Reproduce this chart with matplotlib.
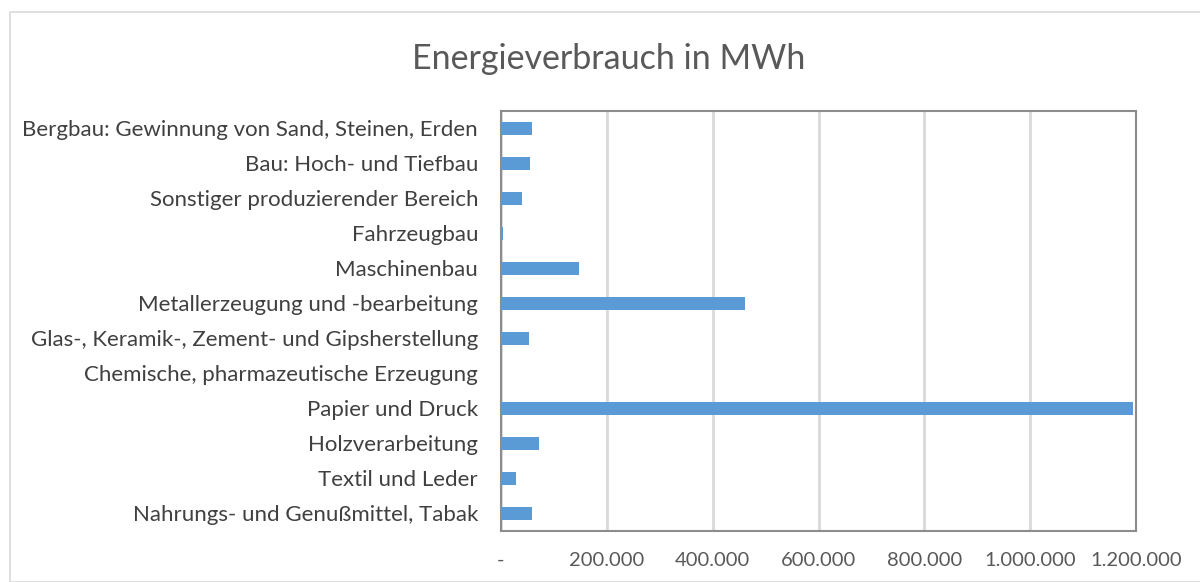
import matplotlib.pyplot as plt
from matplotlib.patches import Rectangle
from matplotlib.ticker import FuncFormatter

categories = [
    "Nahrungs- und Genußmittel, Tabak",
    "Textil und Leder",
    "Holzverarbeitung",
    "Papier und Druck",
    "Chemische, pharmazeutische Erzeugung",
    "Glas-, Keramik-, Zement- und Gipsherstellung",
    "Metallerzeugung und -bearbeitung",
    "Maschinenbau",
    "Fahrzeugbau",
    "Sonstiger produzierender Bereich",
    "Bau: Hoch- und Tiefbau",
    "Bergbau: Gewinnung von Sand, Steinen, Erden",
]
values = [59500, 28000, 71500, 1195000, 0, 52000, 462000, 146500, 4500, 40000, 54500, 59500]
xticks = [0, 200000, 400000, 600000, 800000, 1000000, 1200000]

plt.rcParams['font.family'] = ['Lato', 'DejaVu Sans']

fig = plt.figure(figsize=(12, 5.82), dpi=100)
fig.patches.append(Rectangle((10 / 1200, 0), 1.0, 1 - 12 / 582, transform=fig.transFigure,
                             fill=False, edgecolor='#d9d9d9', linewidth=1.2))
ax = fig.add_axes([501 / 1200, 1 - 531 / 582, (1136 - 501) / 1200, (531 - 110.7) / 582])

ax.barh(range(len(categories)), values, height=0.37, color='#5b9bd5', zorder=3)
ax.set_ylim(-0.5, len(categories) - 0.5)
ax.set_xlim(0, 1200000)
ax.set_yticks(range(len(categories)))
ax.set_yticklabels(categories)
ax.set_xticks(xticks)
ax.xaxis.set_major_formatter(FuncFormatter(
    lambda v, p: '-' if v == 0 else f"{int(v):,}".replace(',', '.')))
ax.tick_params(axis='x', length=0, labelsize=14.5, colors='#595959', pad=15)
ax.tick_params(axis='y', length=0, labelsize=16, colors='#404040', pad=16.5)
ax.grid(axis='x', color='#d9d9d9', linewidth=2, zorder=0)
for s in ax.spines.values():
    s.set_color('#8c8c8c')
    s.set_linewidth(1.5)

fig.text(609 / 1200, 1 - 59 / 582, "Energieverbrauch in MWh", ha='center', va='center',
         fontsize=24.5, color='#595959')

fig.savefig("out.png", dpi=100)
